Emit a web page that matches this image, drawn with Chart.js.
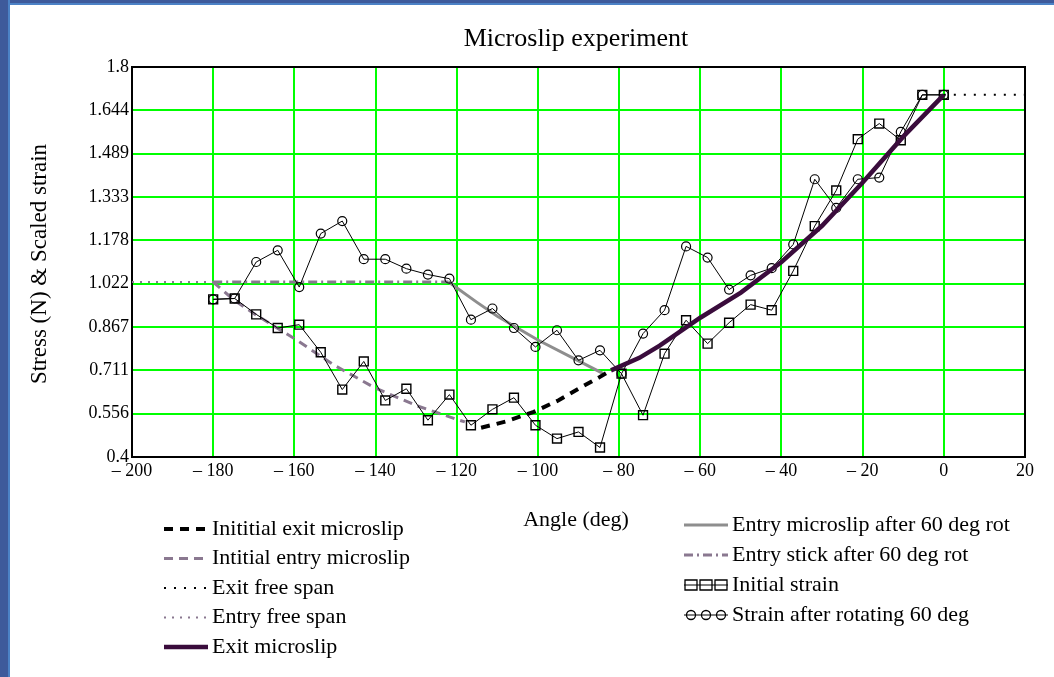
<!DOCTYPE html>
<html>
<head>
<meta charset="utf-8">
<script src="https://cdn.jsdelivr.net/npm/chart.js@4.4.1/dist/chart.umd.min.js"></script>
<style>
  html, body { margin: 0; padding: 0; background: #fff; }
  #wrap { position: relative; width: 1054px; height: 677px; overflow: hidden; }
  #frameTop { position: absolute; left: 0; top: 0; width: 1054px; height: 3px; background: #3e5a9b; border-bottom: 2px solid #4c82c6; }
  #frameLeft { position: absolute; left: 0; top: 0; width: 8px; height: 677px; background: #3e5a9b; border-right: 2px solid #4c82c6; }
  canvas { position: absolute; left: 0; top: 0; }
</style>
</head>
<body>
<div id="wrap">
  <canvas id="chart" width="1054" height="677"></canvas>
  <div id="frameTop"></div>
  <div id="frameLeft"></div>
</div>
<script>
// tick labels
const xTicks = [-200, -180, -160, -140, -120, -100, -80, -60, -40, -20, 0, 20];
const yTicks = [0.4, 0.5556, 0.7111, 0.8667, 1.0222, 1.1778, 1.3333, 1.4889, 1.6444, 1.8];
const yTickLabels = ['0.4', '0.556', '0.711', '0.867', '1.022', '1.178', '1.333', '1.489', '1.644', '1.8'];

// measured strain (squares / circles)
const strainAngles = [-180, -174.7, -169.4, -164.1, -158.8, -153.5, -148.2, -142.9, -137.6, -132.4, -127.1, -121.8,
  -116.5, -111.2, -105.9, -100.6, -95.3, -90, -84.7, -79.4, -74.1, -68.8, -63.5, -58.2, -52.9, -47.6, -42.4,
  -37.1, -31.8, -26.5, -21.2, -15.9, -10.6, -5.3, 0];
const initialStrain = [0.966, 0.969, 0.912, 0.863, 0.875, 0.776, 0.642, 0.743, 0.603, 0.645, 0.532, 0.624,
  0.514, 0.571, 0.613, 0.514, 0.466, 0.490, 0.434, 0.699, 0.550, 0.771, 0.891, 0.807, 0.882, 0.947, 0.927,
  1.068, 1.229, 1.357, 1.541, 1.597, 1.537, 1.700, 1.700];
const rotatedStrain = [0.966, 0.969, 1.100, 1.142, 1.010, 1.202, 1.247, 1.110, 1.110, 1.076, 1.055, 1.040,
  0.893, 0.933, 0.863, 0.795, 0.855, 0.747, 0.783, 0.699, 0.843, 0.927, 1.156, 1.116, 1.001, 1.052, 1.078,
  1.163, 1.397, 1.294, 1.397, 1.403, 1.567, 1.700, 1.700];

// model curves
const exitSlipAngles = [-82, -75, -70, -60, -50, -40, -30, -20, -10, 0];
const exitSlip = [0.711, 0.756, 0.80, 0.90, 0.99, 1.10, 1.23, 1.385, 1.55, 1.70];
const initExitAngles = [-114, -108, -101, -95, -90, -85, -82];
const initExit = [0.505, 0.527, 0.562, 0.603, 0.645, 0.685, 0.711];
const initEntryAngles = [-180, -175, -170, -160, -150, -140, -130, -120, -118];
const initEntry = [1.028, 0.965, 0.915, 0.825, 0.728, 0.647, 0.585, 0.535, 0.526];
const entryAfterAngles = [-122, -115, -110, -100, -90, -84];
const entryAfter = [1.028, 0.955, 0.905, 0.82, 0.745, 0.70];
const entryStickAngles = [-180, -122];
const entryStick = [1.028, 1.028];
const entryFreeAngles = [-200, -180];
const entryFree = [1.028, 1.028];
const exitFreeAngles = [0, 20];
const exitFree = [1.70, 1.70];

function pts(xs, ys) {
  return xs.map((x, i) => ({ x: x, y: ys[i] }));
}

const serif = '"Liberation Serif", "Times New Roman", serif';
const purple = '#3a0c3c';
const gray = '#8e8e8e';
const grayPurple = '#8a7890';

function line(label, xs, ys, color, width, dash, order) {
  return {
    label: label,
    data: pts(xs, ys),
    showLine: true,
    borderColor: color,
    borderWidth: width,
    borderDash: dash,
    pointRadius: 0,
    fill: false,
    order: order
  };
}

const datasets = [
  line('Inititial exit microslip', initExitAngles, initExit, '#000', 4, [9, 7], 3),
  line('Intitial entry microslip', initEntryAngles, initEntry, grayPurple, 3, [9, 6], 4),
  line('Exit free span', exitFreeAngles, exitFree, '#000', 2, [2, 8], 5),
  line('Entry free span', entryFreeAngles, entryFree, grayPurple, 2, [2, 6], 5),
  line('Exit microslip', exitSlipAngles, exitSlip, purple, 4.5, [], 1),
  line('Entry microslip after 60 deg rot', entryAfterAngles, entryAfter, gray, 3, [], 4),
  line('Entry stick after 60 deg rot', entryStickAngles, entryStick, grayPurple, 3, [9, 4, 2, 4], 5),
  {
    label: 'Initial strain',
    data: pts(strainAngles, initialStrain),
    showLine: true,
    borderColor: '#000',
    borderWidth: 1,
    pointStyle: 'rect',
    pointRadius: 6.3,
    pointBorderWidth: 1.4,
    pointBorderColor: '#000',
    pointBackgroundColor: 'rgba(0,0,0,0)',
    order: 2
  },
  {
    label: 'Strain after rotating 60 deg',
    data: pts(strainAngles, rotatedStrain),
    showLine: true,
    borderColor: '#000',
    borderWidth: 1,
    pointStyle: 'circle',
    pointRadius: 4.5,
    pointBorderWidth: 1.2,
    pointBorderColor: '#000',
    pointBackgroundColor: 'rgba(0,0,0,0)',
    order: 2
  }
];

// legend sample drawing
function drawSample(ctx, x, y, ds) {
  ctx.save();
  if (ds.pointStyle) {
    ctx.strokeStyle = '#000';
    ctx.lineWidth = 1;
    ctx.beginPath(); ctx.moveTo(x, y); ctx.lineTo(x + 44, y); ctx.stroke();
    ctx.lineWidth = 1.3;
    for (let k = 0; k < 3; k++) {
      const cx = x + 7 + k * 15;
      ctx.beginPath();
      if (ds.pointStyle === 'rect') ctx.rect(cx - 6, y - 5, 12, 10);
      else ctx.arc(cx, y, 4.5, 0, Math.PI * 2);
      ctx.stroke();
    }
  } else {
    ctx.strokeStyle = ds.borderColor;
    ctx.lineWidth = ds.borderWidth;
    ctx.setLineDash(ds.borderDash);
    ctx.beginPath(); ctx.moveTo(x, y); ctx.lineTo(x + 44, y); ctx.stroke();
  }
  ctx.restore();
}

const decor = {
  id: 'decor',
  beforeDatasetsDraw(chart) {
    const { ctx, chartArea: a } = chart;
    ctx.save();
    ctx.strokeStyle = '#000';
    ctx.lineWidth = 2;
    ctx.strokeRect(a.left, a.top, a.right - a.left, a.bottom - a.top);
    ctx.restore();
  },
  afterDraw(chart) {
    const ctx = chart.ctx;
    ctx.save();
    ctx.fillStyle = '#000';
    ctx.textBaseline = 'middle';
    ctx.textAlign = 'center';
    ctx.font = '26px ' + serif;
    ctx.fillText('Microslip experiment', 576, 39);
    ctx.font = '22px ' + serif;
    ctx.fillText('Angle (deg)', 576, 520);
    ctx.save();
    ctx.translate(40, 264);
    ctx.rotate(-Math.PI / 2);
    ctx.font = '23px ' + serif;
    ctx.fillText('Stress (N) & Scaled strain', 0, 0);
    ctx.restore();

    ctx.textAlign = 'left';
    ctx.font = '22px ' + serif;
    const left = [0, 1, 2, 3, 4];
    const right = [5, 6, 7, 8];
    left.forEach((di, i) => {
      const y = 529 + i * 29.5;
      drawSample(ctx, 164, y, datasets[di]);
      ctx.fillText(datasets[di].label, 212, y);
    });
    right.forEach((di, i) => {
      const y = 525 + i * 30;
      drawSample(ctx, 684, y, datasets[di]);
      ctx.fillText(datasets[di].label, 732, y);
    });
    ctx.restore();
  }
};

new Chart(document.getElementById('chart'), {
  type: 'scatter',
  data: { datasets: datasets },
  options: {
    responsive: false,
    animation: false,
    layout: { padding: { left: 42, top: 67, right: 29, bottom: 192 } },
    plugins: {
      legend: { display: false },
      title: { display: false },
      tooltip: { enabled: false }
    },
    scales: {
      x: {
        type: 'linear',
        min: -200,
        max: 20,
        afterFit: s => { s.height = 28; },
        afterBuildTicks: s => { s.ticks = xTicks.map(v => ({ value: v })); },
        grid: { color: '#00ff00', lineWidth: 2, drawTicks: false },
        border: { display: false },
        ticks: {
          padding: 3,
          color: '#000',
          font: { family: serif, size: 18 },
          callback: v => (v < 0 ? '\u2013 ' + Math.abs(v) : String(v))
        }
      },
      y: {
        type: 'linear',
        min: 0.4,
        max: 1.8,
        afterFit: s => { s.width = 90; },
        afterBuildTicks: s => { s.ticks = yTicks.map(v => ({ value: v })); },
        grid: { color: '#00ff00', lineWidth: 2, drawTicks: false },
        border: { display: false },
        ticks: {
          padding: 3,
          color: '#000',
          font: { family: serif, size: 18 },
          callback: (v, i) => yTickLabels[i]
        }
      }
    }
  },
  plugins: [decor]
});
</script>
</body>
</html>
